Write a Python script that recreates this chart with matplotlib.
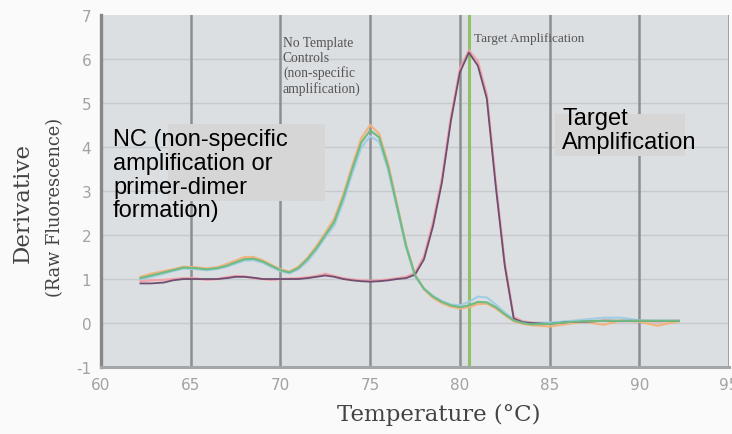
import matplotlib
matplotlib.use("Agg")
import matplotlib.pyplot as plt
from matplotlib.patches import Rectangle

plt.rcParams['axes.unicode_minus'] = False

temps = [62.2, 62.8, 63.5, 64.0, 64.6, 65.2, 65.9, 66.5, 67.0, 67.5,
         68.0, 68.5, 69.0, 69.5, 70.0, 70.5, 71.0, 71.5, 72.0, 72.5,
         73.0, 73.5, 74.0, 74.5, 75.0, 75.5, 76.0, 76.5, 77.0, 77.5,
         78.0, 78.5, 79.0, 79.5, 80.0, 80.5, 81.0, 81.5, 82.0, 82.5,
         83.0, 83.5, 84.0, 85.0, 86.0, 87.0, 88.0, 89.0, 90.0, 91.0, 92.2]

ntc_green = [1.02, 1.08, 1.15, 1.20, 1.26, 1.25, 1.22, 1.25, 1.30, 1.38,
             1.45, 1.46, 1.40, 1.30, 1.20, 1.15, 1.25, 1.45, 1.70, 2.00,
             2.30, 2.85, 3.50, 4.10, 4.38, 4.22, 3.55, 2.65, 1.75, 1.08,
             0.78, 0.60, 0.48, 0.40, 0.36, 0.40, 0.48, 0.47, 0.36, 0.20,
             0.06, 0.00, -0.03, -0.02, 0.02, 0.04, 0.05, 0.05, 0.05, 0.05, 0.05]

ntc_orange = [1.05, 1.12, 1.18, 1.22, 1.28, 1.27, 1.24, 1.27, 1.34, 1.42,
              1.50, 1.50, 1.43, 1.32, 1.22, 1.17, 1.28, 1.48, 1.75, 2.05,
              2.38, 2.92, 3.58, 4.20, 4.50, 4.30, 3.62, 2.70, 1.78, 1.10,
              0.76, 0.57, 0.45, 0.37, 0.33, 0.36, 0.43, 0.44, 0.33, 0.18,
              0.04, -0.02, -0.05, -0.08, -0.02, 0.03, -0.04, 0.06, 0.03, -0.06, 0.04]

ntc_blue = [1.00, 1.05, 1.12, 1.18, 1.24, 1.23, 1.20, 1.23, 1.28, 1.35,
            1.42, 1.43, 1.37, 1.27, 1.18, 1.13, 1.22, 1.40, 1.65, 1.95,
            2.22, 2.75, 3.40, 3.98, 4.25, 4.12, 3.48, 2.60, 1.72, 1.06,
            0.78, 0.62, 0.50, 0.42, 0.40, 0.48, 0.60, 0.58, 0.42, 0.24,
            0.08, 0.02, 0.00, 0.01, 0.04, 0.08, 0.12, 0.12, 0.06, 0.05, 0.05]

target_purple = [0.90, 0.90, 0.92, 0.97, 1.00, 1.00, 1.00, 1.00, 1.02, 1.05,
                 1.05, 1.03, 1.00, 1.00, 1.00, 1.00, 1.00, 1.02, 1.05, 1.08,
                 1.05, 1.00, 0.97, 0.95, 0.94, 0.95, 0.97, 1.00, 1.02, 1.10,
                 1.45, 2.20, 3.20, 4.60, 5.70, 6.15, 5.85, 5.10, 3.10, 1.30,
                 0.10, 0.02, 0.00, -0.02, 0.02, 0.03, 0.05, 0.05, 0.05, 0.05, 0.05]

target_pink = [0.95, 0.97, 0.98, 1.00, 1.02, 1.02, 0.98, 1.00, 1.04, 1.07,
               1.06, 1.02, 1.00, 0.98, 1.00, 1.01, 1.02, 1.04, 1.07, 1.12,
               1.07, 1.02, 0.99, 0.97, 0.96, 0.97, 0.99, 1.02, 1.05, 1.14,
               1.52, 2.30, 3.30, 4.70, 5.78, 6.20, 5.95, 5.20, 3.20, 1.38,
               0.14, 0.04, 0.01, -0.01, 0.03, 0.02, 0.06, 0.04, 0.05, 0.03, 0.05]

x_ticks = [60, 65, 70, 75, 80, 85, 90, 95]
y_ticks = [-1, 0, 1, 2, 3, 4, 5, 6, 7]
target_tm = 80.5

fig = plt.figure(figsize=(7.32, 4.35), dpi=100, facecolor='#fafafa')
ax = fig.add_axes([0.138, 0.154, 0.858, 0.809])
ax.set_facecolor('#dcdfe2')
ax.set_xlim(60, 95)
ax.set_ylim(-1, 7)

# grid
for yv in y_ticks[1:-1]:
    ax.axhline(yv, color='#c6c9cd', lw=1.0, zorder=1)
for xv in x_ticks[1:]:
    ax.axvline(xv, color='#8c8f92', lw=1.8, zorder=1)

for s in ['top']:
    ax.spines[s].set_visible(False)
ax.spines['right'].set_visible(False)
ax.spines['left'].set_color('#85888b')
ax.spines['left'].set_linewidth(2.4)
ax.spines['bottom'].set_color('#a4a7aa')
ax.spines['bottom'].set_linewidth(2.2)

ax.set_xticks(x_ticks)
ax.set_yticks(y_ticks)
ax.tick_params(length=0, labelsize=11, labelcolor='#a2a2a2', pad=7)

# target Tm marker
ax.axvline(target_tm, color='#8fc06a', lw=2.2, zorder=2)

# curves
ax.plot(temps, target_pink, color='#f2a3aa', lw=1.6, zorder=3)
ax.plot(temps, target_purple, color='#6e4d70', lw=1.3, zorder=4)
ax.plot(temps, ntc_orange, color='#f1b47f', lw=1.6, zorder=3)
ax.plot(temps, ntc_blue, color='#a3cde3', lw=1.6, zorder=3)
ax.plot(temps, ntc_green, color='#6fbb84', lw=1.5, zorder=4)

# grey boxes behind big labels
ax.add_patch(Rectangle((63.73, 2.77), 8.76, 1.75, facecolor='#d6d6d6',
                       edgecolor='none', zorder=5))
ax.add_patch(Rectangle((85.31, 3.80), 7.24, 0.95, facecolor='#d6d6d6',
                       edgecolor='none', zorder=5))

ax.text(60.67, 4.43, "NC (non-specific\namplification or\nprimer-dimer\nformation)",
        family='Liberation Sans', fontsize=17, va='top', ha='left',
        linespacing=1.1, color='black', zorder=6)
ax.text(85.7, 4.9, "Target\nAmplification",
        family='Liberation Sans', fontsize=17, va='top', ha='left',
        linespacing=1.1, color='black', zorder=6)

ax.text(70.14, 6.52, "No Template\nControls\n(non-specific\namplification)",
        family='Liberation Serif', fontsize=9.8, va='top', ha='left',
        linespacing=1.15, color='#555555', zorder=6)
ax.text(80.8, 6.61, "Target Amplification",
        family='Liberation Serif', fontsize=9.5, va='top', ha='left',
        color='#555555', zorder=6)

fig.text(0.031, 0.533, "Derivative", rotation=90, family='DejaVu Serif',
         fontsize=16.5, color='#444444', ha='center', va='center')
fig.text(0.075, 0.522, "(Raw Fluorescence)", rotation=90, family='DejaVu Serif',
         fontsize=12.8, color='#444444', ha='center', va='center')
fig.text(0.6, 0.047, "Temperature (°C)", family='DejaVu Serif',
         fontsize=16.5, color='#444444', ha='center', va='center')

fig.savefig('out.png', dpi=100, facecolor=fig.get_facecolor())
